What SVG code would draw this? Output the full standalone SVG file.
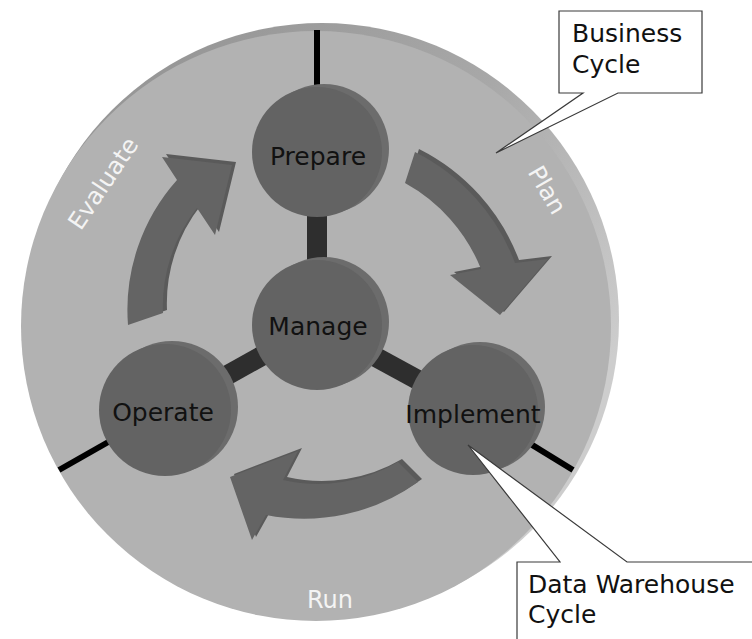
<svg xmlns="http://www.w3.org/2000/svg" width="752" height="639" viewBox="0 0 752 639">
<defs>
<linearGradient id="rim" x1="0.3" y1="0" x2="1" y2="0.55">
<stop offset="0" stop-color="#979797"/>
<stop offset="0.5" stop-color="#a8a8a8"/>
<stop offset="1" stop-color="#cdcdcd"/>
</linearGradient>
</defs>
<style>
.nodeback{fill:#6c6c6c}
.nodeface{fill:#636363}
.nlabel{font-family:"DejaVu Sans",Verdana,sans-serif;font-size:25px;fill:#111;text-anchor:middle}
.dlabel{font-family:"DejaVu Sans",Verdana,sans-serif;font-size:24px;fill:#f4f4f4;text-anchor:middle}
.clabel{font-family:"DejaVu Sans",Verdana,sans-serif;font-size:25px;fill:#111}
.arrowback{fill:#5a5a5a}
.arrowface{fill:#646464}
.callout{fill:#fff;stroke:#3a3a3a;stroke-width:1.2}
</style>
<rect width="752" height="639" fill="#fff"/>
<g id="disc">
<circle cx="322" cy="320" r="297" fill="url(#rim)"/>
<circle cx="316" cy="326" r="295" fill="#b2b2b2"/>
</g>
<g id="connectors">
<g stroke="#2e2e2e" stroke-width="20">
<line x1="317" y1="325" x2="317" y2="152"/>
<line x1="317" y1="325" x2="165" y2="410"/>
<line x1="317" y1="325" x2="473" y2="410"/>
</g>
<g stroke="#000" stroke-width="6">
<line x1="317" y1="30" x2="317" y2="100"/>
<line x1="59" y1="470" x2="140" y2="424"/>
<line x1="573" y1="470" x2="498" y2="424"/>
</g>
</g>
<g id="arrow-plan">
<path class="arrowback" transform="translate(4,-3)" d="M415,152 A205,205 0 0 1 515,263 L548,259 L500,315 L450,275 L481,269 A170,170 0 0 0 405,183 Z"/>
<path class="arrowface" d="M415,152 A205,205 0 0 1 515,263 L548,259 L500,315 L450,275 L481,269 A170,170 0 0 0 405,183 Z"/>
</g>
<g id="arrow-run">
<path class="arrowback" transform="translate(4,-3)" d="M418,482 A195,195 0 0 1 266,515 L252,540 L230,477 L298,451 L283,480 A158,158 0 0 0 398,462 Z"/>
<path class="arrowface" d="M418,482 A195,195 0 0 1 266,515 L252,540 L230,477 L298,451 L283,480 A158,158 0 0 0 398,462 Z"/>
</g>
<g id="arrow-evaluate">
<path class="arrowback" transform="translate(4,-3)" d="M128,325 A195,195 0 0 1 177,180 L162,157 L232,165 L215,235 L197,208 A158,158 0 0 0 163,313 Z"/>
<path class="arrowface" d="M128,325 A195,195 0 0 1 177,180 L162,157 L232,165 L215,235 L197,208 A158,158 0 0 0 163,313 Z"/>
</g>
<g id="prepare">
<circle class="nodeback" cx="324" cy="149" r="65"/>
<circle class="nodeface" cx="317" cy="152" r="65"/>
<text class="nlabel" x="318" y="165">Prepare</text>
</g>
<g id="manage">
<circle class="nodeback" cx="324" cy="322" r="65"/>
<circle class="nodeface" cx="317" cy="325" r="65"/>
<text class="nlabel" x="318" y="335">Manage</text>
</g>
<g id="operate">
<circle class="nodeback" cx="172" cy="407" r="66"/>
<circle class="nodeface" cx="165" cy="410" r="66"/>
<text class="nlabel" x="163" y="421">Operate</text>
</g>
<g id="implement">
<circle class="nodeback" cx="480" cy="407" r="65"/>
<circle class="nodeface" cx="473" cy="410" r="65"/>
<text class="nlabel" x="473" y="423">Implement</text>
</g>
<g id="disc-labels">
<text class="dlabel" transform="translate(110,188) rotate(-56)">Evaluate</text>
<text class="dlabel" transform="translate(540,194) rotate(60)">Plan</text>
<text class="dlabel" x="330" y="608">Run</text>
</g>
<g id="business-cycle">
<path class="callout" d="M559,11 H702 V93 H618 L496,153 L583,93 H559 Z"/>
<text class="clabel" x="572" y="42">Business</text>
<text class="clabel" x="572" y="73">Cycle</text>
</g>
<g id="dw-cycle">
<path class="callout" d="M517,562 H560 L468,445 L627,562 H760 V650 H517 Z"/>
<text class="clabel" x="528" y="593">Data Warehouse</text>
<text class="clabel" x="528" y="623">Cycle</text>
</g>
</svg>
